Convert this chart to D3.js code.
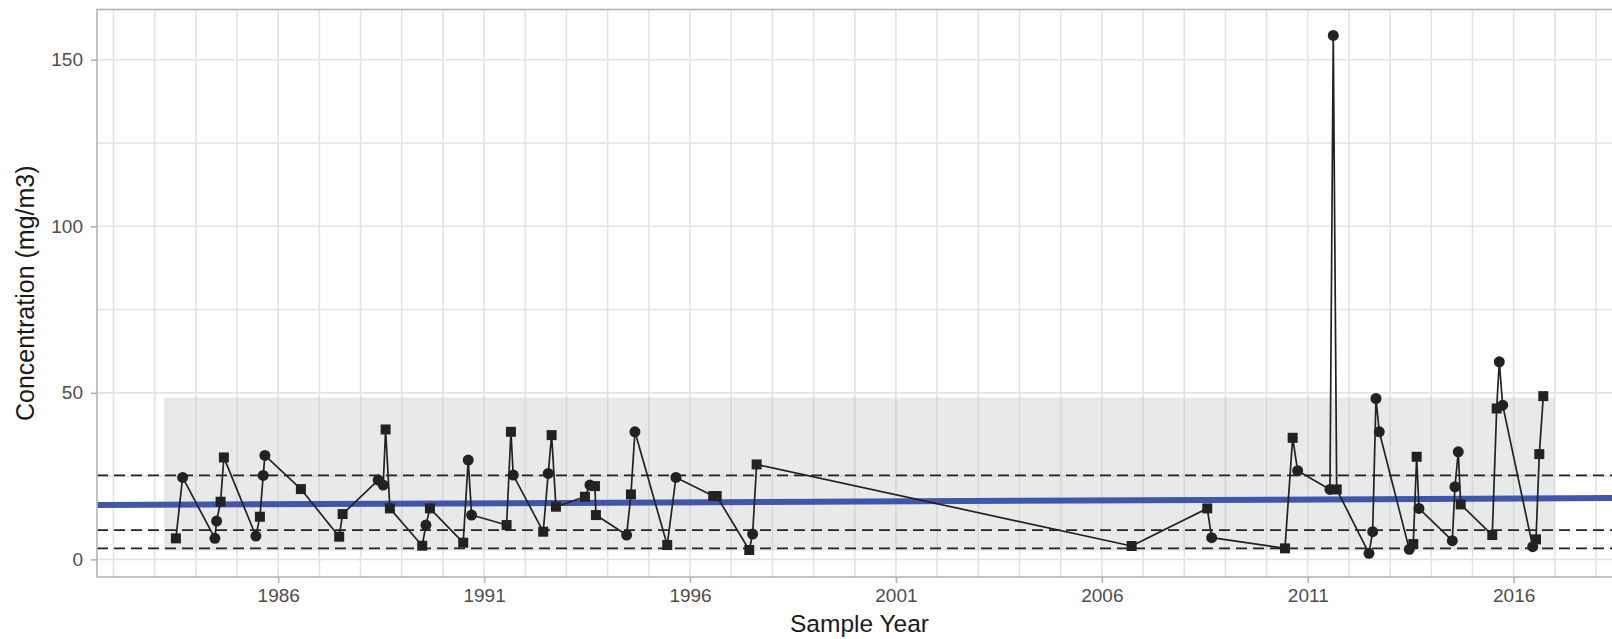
<!DOCTYPE html>
<html>
<head>
<meta charset="utf-8">
<script src="https://cdnjs.cloudflare.com/ajax/libs/d3/7.8.5/d3.min.js"></script>
<style>
  body { margin: 0; background: #fff; }
  text { font-family: "Liberation Sans", Arial, sans-serif; }
</style>
</head>
<body>
<div id="chart"></div>
<script>
// sample dates as decimal years, concentration in mg/m3
var sampleYears = [1983.516, 1983.679, 1984.463, 1984.504, 1984.601, 1984.681, 1985.458, 1985.556, 1985.636, 1985.677,
  1986.551, 1987.481, 1987.564, 1988.428, 1988.550, 1988.608, 1988.712, 1989.497, 1989.587, 1989.684,
  1990.492, 1990.614, 1990.696, 1991.546, 1991.651, 1991.707, 1992.435, 1992.557, 1992.639, 1992.744,
  1993.448, 1993.569, 1993.691, 1993.715, 1994.460, 1994.565, 1994.662, 1995.446, 1995.658, 1996.563,
  1996.646, 1997.438, 1997.520, 1997.617, 2006.723, 2008.559, 2008.666, 2010.446, 2010.633, 2010.754,
  2011.539, 2011.619, 2011.702, 2012.486, 2012.576, 2012.656, 2012.736, 2013.465, 2013.562, 2013.644,
  2013.700, 2014.509, 2014.574, 2014.654, 2014.713, 2015.480, 2015.587, 2015.650, 2015.733, 2016.462,
  2016.542, 2016.622, 2016.719];
var concentrations = [6.3, 24.6, 6.3, 11.5, 17.3, 30.6, 7.0, 12.8, 25.2, 31.2,
  21.1, 6.8, 13.6, 23.8, 22.3, 39.0, 15.3, 4.1, 10.3, 15.3,
  5.0, 29.8, 13.3, 10.3, 38.3, 25.3, 8.3, 25.8, 37.3, 15.8,
  18.8, 22.3, 22.0, 13.3, 7.3, 19.5, 38.3, 4.3, 24.6, 19.0,
  19.0, 2.8, 7.6, 28.5, 4.0, 15.3, 6.5, 3.3, 36.5, 26.6,
  21.0, 157.3, 21.0, 1.8, 8.3, 48.3, 38.3, 3.0, 4.6, 30.8,
  15.3, 5.6, 21.8, 32.3, 16.5, 7.3, 45.3, 59.3, 46.3, 3.8,
  6.0, 31.6, 49.0];
// s = square, c = circle
var shapes = ["s","c","c","c","s","s","c","s","c","c",
  "s","s","s","c","c","s","s","s","c","s",
  "s","c","c","s","s","c","s","c","s","s",
  "s","c","s","s","c","s","c","s","c","s",
  "s","s","c","s","s","s","c","s","s","c",
  "c","c","s","c","c","c","c","c","s","s",
  "c","c","c","c","s","s","s","c","c","c",
  "s","s","s"];

// reference levels (dashed)
var refLevels = [25.2, 8.8, 3.3];
// trend line end points
var trendYears = [1981.6, 2018.63];
var trendValues = [16.3, 18.4];
// shaded band
var bandYears = [1983.23, 2017.0];
var bandValues = [2.6, 48.6];

var xTickYears = [1986, 1991, 1996, 2001, 2006, 2011, 2016];
var yTicks = [0, 50, 100, 150];

var data = sampleYears.map((d, i) => ({ year: d, value: concentrations[i], shape: shapes[i] }));

var width = 1612, height = 639;
var margin = { top: 9.5, right: -10, bottom: 62, left: 97 };

var svg = d3.select("#chart").append("svg")
  .attr("width", width)
  .attr("height", height);

var xScale = d3.scaleLinear()
  .domain([1981.6, 2018.63])
  .range([margin.left, width - margin.right]);

var yScale = d3.scaleLinear()
  .domain([-5.3, 165.1])
  .range([height - margin.bottom, margin.top]);

// grid
svg.append("g")
  .selectAll("line")
  .data(d3.range(1982, 2019))
  .enter().append("line")
  .attr("x1", d => xScale(d)).attr("x2", d => xScale(d))
  .attr("y1", margin.top).attr("y2", height - margin.bottom)
  .attr("stroke", "#e3e3e3").attr("stroke-width", 1.6);

svg.append("g")
  .selectAll("line")
  .data(d3.range(0, 151, 25))
  .enter().append("line")
  .attr("x1", margin.left).attr("x2", width - margin.right)
  .attr("y1", d => yScale(d)).attr("y2", d => yScale(d))
  .attr("stroke", "#e3e3e3").attr("stroke-width", 1.6);

// shaded band
svg.append("rect")
  .attr("x", xScale(bandYears[0]))
  .attr("width", xScale(bandYears[1]) - xScale(bandYears[0]))
  .attr("y", yScale(bandValues[1]))
  .attr("height", yScale(bandValues[0]) - yScale(bandValues[1]))
  .attr("fill", "#bcc2c0")
  .attr("fill-opacity", 0.35);

// dashed reference lines
svg.append("g")
  .selectAll("line")
  .data(refLevels)
  .enter().append("line")
  .attr("x1", margin.left).attr("x2", width - margin.right)
  .attr("y1", d => yScale(d)).attr("y2", d => yScale(d))
  .attr("stroke", "#222")
  .attr("stroke-width", 1.7)
  .attr("stroke-dasharray", "11,6");

// trend
svg.append("path")
  .datum(trendYears.map((d, i) => ({ year: d, value: trendValues[i] })))
  .attr("fill", "none")
  .attr("stroke", "#4056a8")
  .attr("stroke-width", 6)
  .attr("d", d3.line().x(d => xScale(d.year)).y(d => yScale(d.value)));

// sample line
svg.append("path")
  .datum(data)
  .attr("fill", "none")
  .attr("stroke", "#222")
  .attr("stroke-width", 1.7)
  .attr("stroke-linejoin", "round")
  .attr("d", d3.line().x(d => xScale(d.year)).y(d => yScale(d.value)));

// points
svg.append("g")
  .selectAll("path")
  .data(data)
  .enter().append("path")
  .attr("transform", d => `translate(${xScale(d.year)},${yScale(d.value)})`)
  .attr("d", d => d3.symbol().type(d.shape == "s" ? d3.symbolSquare : d3.symbolCircle).size(d.shape == "s" ? 100 : 95)())
  .attr("fill", "#222");

// panel border
svg.append("rect")
  .attr("x", margin.left)
  .attr("y", margin.top)
  .attr("width", width - margin.right - margin.left)
  .attr("height", height - margin.bottom - margin.top)
  .attr("fill", "none")
  .attr("stroke", "#b3b3b3")
  .attr("stroke-width", 1.6);

// axes
var xAxis = svg.append("g")
  .attr("transform", `translate(0,${height - margin.bottom})`)
  .call(d3.axisBottom(xScale).tickValues(xTickYears).tickFormat(d3.format("d")).tickSize(6).tickPadding(6));

var yAxis = svg.append("g")
  .attr("transform", `translate(${margin.left},0)`)
  .call(d3.axisLeft(yScale).tickValues(yTicks).tickSize(6).tickPadding(8));

[xAxis, yAxis].forEach(function(ax) {
  ax.select(".domain").remove();
  ax.selectAll(".tick line").attr("stroke", "#b3b3b3").attr("stroke-width", 1.6);
  ax.selectAll(".tick text")
    .attr("fill", "#4d4d4d")
    .style("font-size", "19px")
    .style("font-family", "'Liberation Sans', Arial, sans-serif");
});

// axis titles
svg.append("text")
  .attr("text-anchor", "middle")
  .attr("x", (margin.left + width - margin.right) / 2)
  .attr("y", 632)
  .style("font-size", "24.5px")
  .attr("fill", "#1a1a1a")
  .text("Sample Year");

svg.append("text")
  .attr("text-anchor", "middle")
  .attr("transform", `translate(34,${(margin.top + height - margin.bottom) / 2}) rotate(-90)`)
  .style("font-size", "25px")
  .attr("fill", "#1a1a1a")
  .text("Concentration (mg/m3)");
</script>
</body>
</html>
